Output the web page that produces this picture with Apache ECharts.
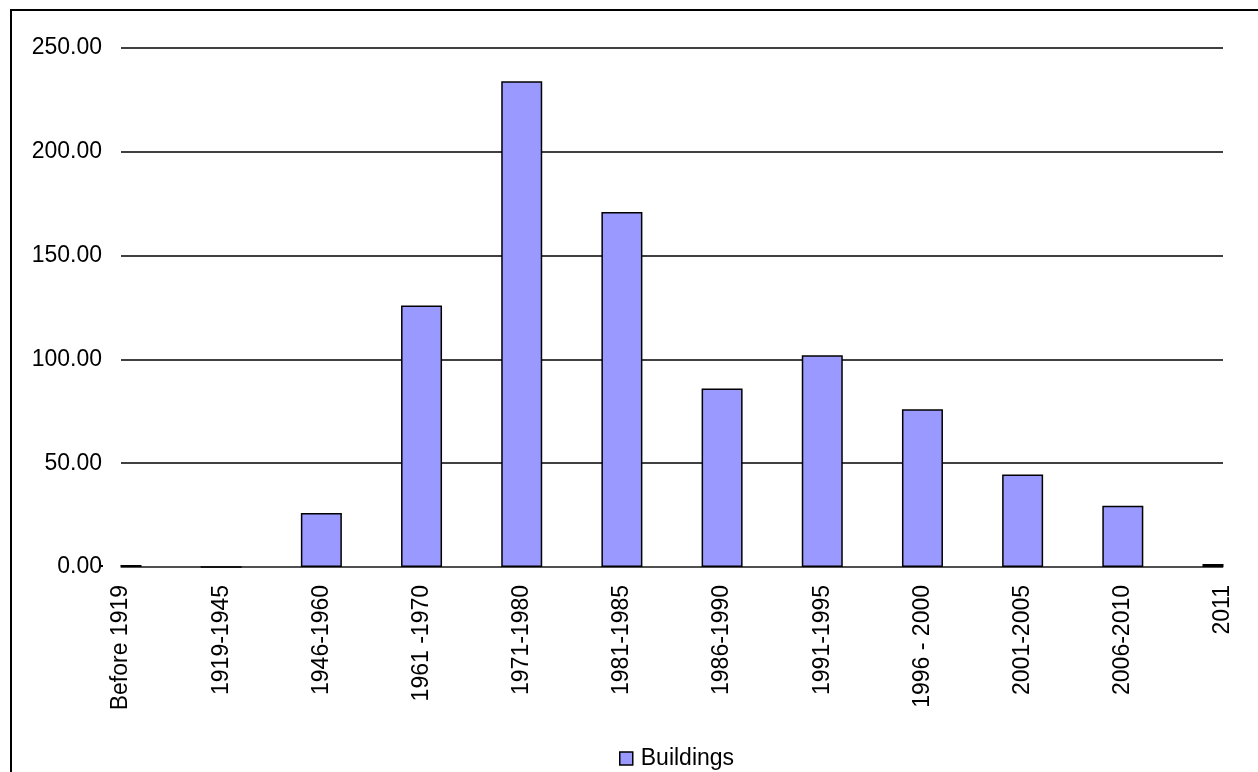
<!DOCTYPE html>
<html>
<head>
<meta charset="utf-8">
<script src="https://cdn.jsdelivr.net/npm/echarts@6/dist/echarts.min.js"></script>
<style>
  html, body { margin: 0; padding: 0; background: #fff; }
  #chart { width: 1258px; height: 772px; }
</style>
</head>
<body>
<div id="chart"></div>
<script>
const categories = ['Before 1919', '1919-1945', '1946-1960', '1961 -1970', '1971-1980', '1981-1985',
  '1986-1990', '1991-1995', '1996 - 2000', '2001-2005', '2006-2010', '2011'];
const buildings = [1, 0, 26, 126, 234, 171, 86, 102, 76, 44.5, 29.5, 1.5];
const yTicks = [0, 50, 100, 150, 200, 250];

const chart = echarts.init(document.getElementById('chart'));

// bars at the edge overflow the grid when boundaryGap is false; mask them
const option = {
  backgroundColor: '#fff',
  animation: false,
  textStyle: { fontFamily: 'Liberation Sans, Arial, sans-serif' },
  graphic: [
    {
      type: 'rect',
      shape: { x: 11, y: 10, width: 1300, height: 800 },
      style: { fill: 'none', stroke: '#000', lineWidth: 2 },
      silent: true
    },
    {
      type: 'rect', z: 100,
      shape: { x: 103, y: 540, width: 17.5, height: 27 },
      style: { fill: '#fff' }, silent: true
    },
    {
      type: 'rect', z: 100,
      shape: { x: 1223.5, y: 540, width: 30, height: 30 },
      style: { fill: '#fff' }, silent: true
    }
  ],
  grid: { left: 121, right: 35, top: 48, bottom: 205 },
  legend: {
    data: ['Buildings'],
    icon: 'rect',
    left: 614,
    top: 742,
    itemWidth: 13,
    itemHeight: 13,
    itemGap: 8,
    itemStyle: { borderColor: '#000', borderWidth: 1.5 },
    textStyle: { fontSize: 23, color: '#000', padding: [0, 0, 0, 3] }
  },
  xAxis: {
    type: 'category',
    data: categories,
    boundaryGap: false,
    axisLine: { show: true, lineStyle: { color: '#555', width: 1.5 } },
    axisTick: { show: false },
    axisLabel: {
      rotate: 90,
      interval: 0,
      margin: 18,
      fontSize: 23,
      color: '#000'
    }
  },
  yAxis: {
    type: 'value',
    min: yTicks[0],
    max: yTicks[yTicks.length - 1],
    interval: 50,
    axisLine: { show: false },
    axisTick: { show: false },
    axisLabel: {
      fontSize: 23,
      color: '#000',
      margin: 19,
      formatter: v => v.toFixed(2)
    },
    splitLine: { lineStyle: { color: '#000', width: 1.5 } }
  },
  series: [{
    name: 'Buildings',
    type: 'bar',
    data: buildings,
    barWidth: 41,
    itemStyle: { color: '#9999FF', borderColor: '#000', borderWidth: 1.5 }
  }]
};

chart.setOption(option);
</script>
</body>
</html>
